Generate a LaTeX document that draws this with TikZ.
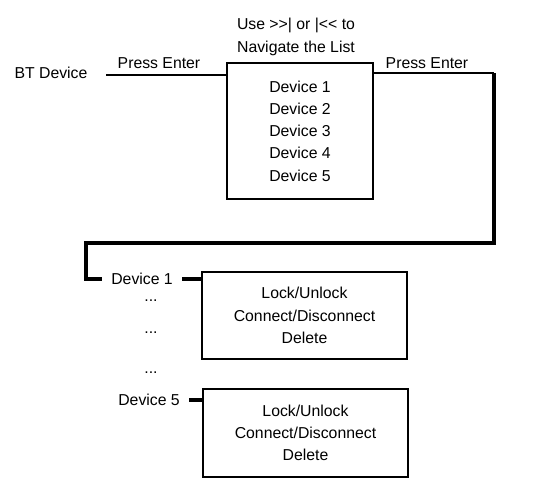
\documentclass[tikz,border=0pt]{standalone}
\usepackage{fontspec}
\setmainfont{Liberation Sans}
\tikzset{
  txt/.style={inner sep=0pt, align=center},
  menubox/.style={draw, line width=2.8pt, align=center, inner sep=0pt},
  thin/.style={line width=1.8pt},
  route/.style={line width=3.2pt}
}
\begin{document}
\begin{tikzpicture}[x=1pt,y=-1pt,font=\fontsize{15.8}{22.3}\selectfont]
      \useasboundingbox (0,0) rectangle (550,480);
      % top row
      \node[txt] (bt) at (51,73) {BT Device};
      \node[txt] (hint) at (296,37) {Use >\kern0pt>| or |<\kern0pt< to\\Navigate the List};
      \node[menubox, minimum width=146pt, minimum height=136pt] (list) at (300,131)
        {Device 1\\Device 2\\Device 3\\Device 4\\Device 5};
      \node[txt] (enter1) at (159,63) {Press Enter};
      \node[txt] (enter2) at (427,63) {Press Enter};
      \coordinate (start) at (106,75);
      \coordinate (turn) at (494,73);
      % device menus
      \node[txt, inner xsep=9pt, anchor=east] (dev1) at (182,279) {Device 1};
      \node[txt] (dots1) at (151,301) {...};
      \node[txt] (dots2) at (151,333) {...};
      \node[txt] (dots3) at (151,373) {...};
      \node[txt, inner xsep=9pt, anchor=east] (dev5) at (189,400) {Device 5};
      \node[menubox, minimum width=205pt, minimum height=87pt] (opts1) at (304.5,315.5)
        {Lock/Unlock\\Connect/Disconnect\\Delete};
      \node[menubox, minimum width=205pt, minimum height=88pt] (opts5) at (305.5,433)
        {Lock/Unlock\\Connect/Disconnect\\Delete};
      % connectors
      \draw[thin] (start) -- (start -| list.west);
      \draw[thin] (list.east |- turn) -- (turn);
      \draw[route] (turn) -- (494,243) -| (86,279) -- (dev1.west);
      \draw[route] (dev1.east) -- (dev1.east -| opts1.west);
      \draw[route] (dev5.east) -- (dev5.east -| opts5.west);
    \end{tikzpicture}
\end{document}
